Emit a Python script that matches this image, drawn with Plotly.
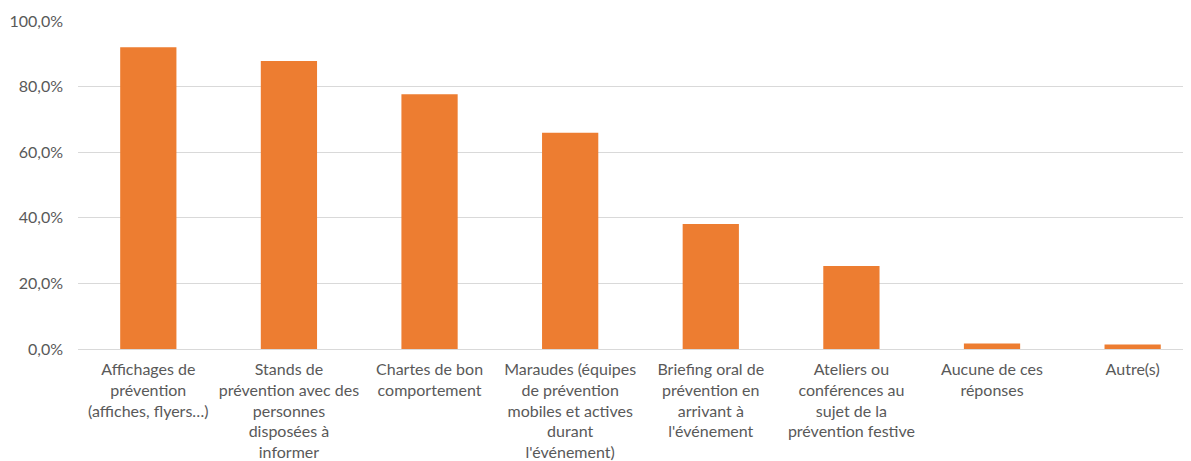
import plotly.graph_objects as go

categories = [
    "Affichages de<br>prévention<br>(affiches, flyers…)",
    "Stands de<br>prévention avec des<br>personnes<br>disposées à<br>informer",
    "Chartes de bon<br>comportement",
    "Maraudes (équipes<br>de prévention<br>mobiles et actives<br>durant<br>l'événement)",
    "Briefing oral de<br>prévention en<br>arrivant à<br>l'événement",
    "Ateliers ou<br>conférences au<br>sujet de la<br>prévention festive",
    "Aucune de ces<br>réponses",
    "Autre(s)",
]
values = [92.0, 87.8, 77.7, 65.9, 38.1, 25.3, 1.7, 1.4]
tick_vals = [0, 20, 40, 60, 80, 100]
tick_text = ["0,0%", "20,0%", "40,0%", "60,0%", "80,0%", "100,0%"]

fig = go.Figure(go.Bar(
    x=list(range(len(categories))), y=values,
    marker=dict(color="#ED7D31", line=dict(width=0)),
    width=0.4,
))

# page body has an 8px margin, so the figure is shifted by 8px
fig.update_layout(
    width=1183, height=453,
    margin=dict(l=70, r=0, t=13, b=112),
    paper_bgcolor="white", plot_bgcolor="white",
    font=dict(family="Lato, 'Open Sans', sans-serif", size=16, color="#595959"),
    showlegend=False,
)
fig.update_xaxes(
    tickmode="array", tickvals=list(range(len(categories))), ticktext=categories,
    range=[-0.5, 7.415], showgrid=False, showline=False, zeroline=False,
    ticks="", tickfont=dict(size=16, color="#595959"),
    automargin=False, ticklabelstandoff=9,
)
fig.update_yaxes(
    range=[0, 100], tickmode="array", tickvals=tick_vals, ticktext=tick_text,
    showgrid=True, gridcolor="#d9d9d9", gridwidth=1,
    zeroline=True, zerolinecolor="#d9d9d9", zerolinewidth=1,
    showline=False, ticks="", ticklabelstandoff=14,
    tickfont=dict(size=16, color="#595959"),
    automargin=False,
)

fig.write_html("out.html")
